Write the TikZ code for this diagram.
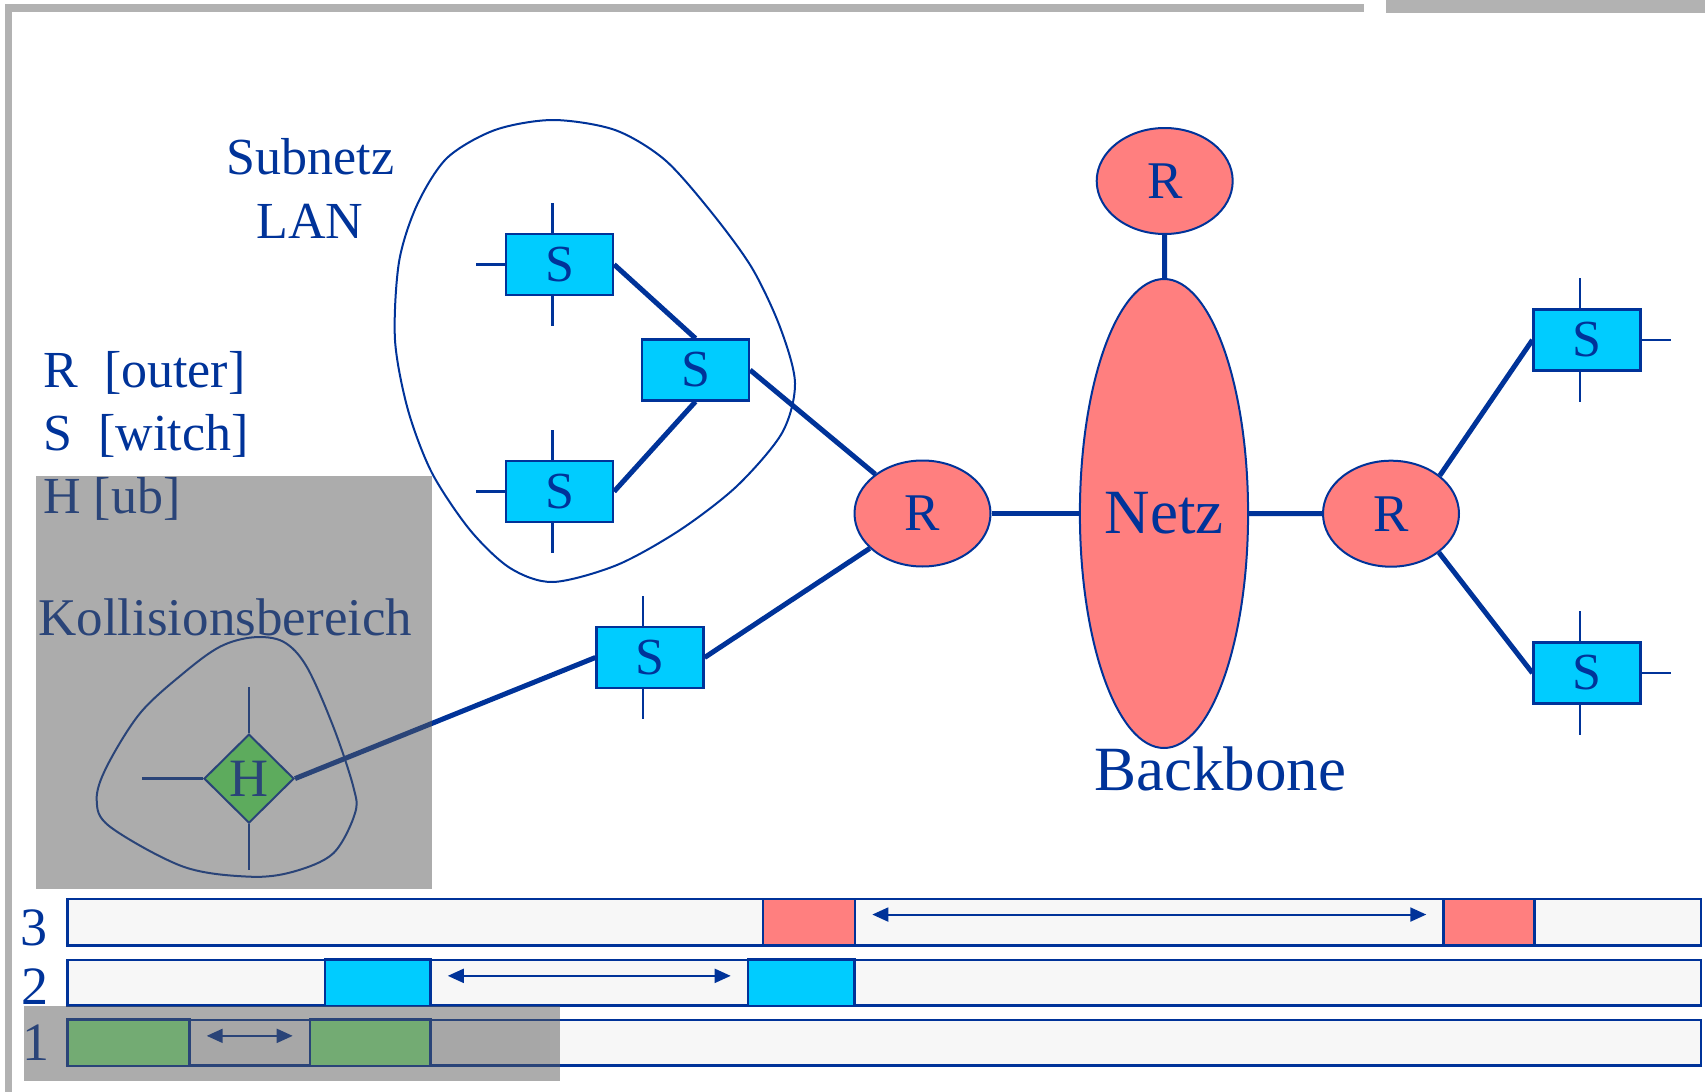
\documentclass[tikz,border=0pt]{standalone}
\usepackage{fontspec}
\setmainfont{Liberation Serif}
\usetikzlibrary{shapes.geometric,arrows.meta,calc}

\definecolor{netblue}{RGB}{0,51,153}
\definecolor{routerred}{RGB}{255,127,127}
\definecolor{switchcyan}{RGB}{0,204,255}
\definecolor{hubgreen}{RGB}{99,255,99}
\definecolor{slotgreen}{RGB}{144,255,144}
\definecolor{barbg}{RGB}{247,247,247}
\definecolor{framegray}{RGB}{178,178,178}
\definecolor{shade}{RGB}{87,87,87}

\tikzset{
  txt/.style={text=netblue, inner sep=0pt, font=\fontsize{26pt}{30pt}\selectfont},
  bigtxt/.style={text=netblue, inner sep=0pt, font=\fontsize{31.5pt}{36pt}\selectfont},
  router/.style={ellipse, draw=netblue, line width=1pt, fill=routerred, text=netblue,
    inner sep=0pt, minimum width=68pt, minimum height=53pt,
    font=\fontsize{26.5pt}{30pt}\selectfont},
  switchbox/.style={rectangle, draw=netblue, line width=1.1pt, fill=switchcyan, text=netblue,
    inner sep=0pt, minimum width=53.5pt, minimum height=30.5pt,
    font=\fontsize{26pt}{30pt}\selectfont},
  hubbox/.style={diamond, draw=netblue, line width=1pt, fill=hubgreen, text=netblue,
    inner sep=0pt, minimum width=45pt, minimum height=44.5pt,
    font=\fontsize{27pt}{30pt}\selectfont},
  link/.style={draw=netblue, line width=2.5pt},
  port/.style={draw=netblue, line width=1.2pt},
  blob/.style={draw=netblue, line width=1pt},
  lane/.style={draw=netblue, line width=1.3pt, fill=barbg},
  slot/.style={rectangle, draw=netblue, line width=1.3pt, inner sep=0pt, minimum height=23.3pt},
  gap/.style={draw=netblue, line width=1pt,
    {Triangle[length=8pt,width=7pt]}-{Triangle[length=8pt,width=7pt]},
    shorten <=8pt, shorten >=8pt},
  veil/.style={fill=shade, fill opacity=0.494, draw=none},
  digit/.style={text=netblue, inner sep=0pt, font=\fontsize{27pt}{30pt}\selectfont, anchor=base},
}

\begin{document}
\begin{tikzpicture}[x=0.5pt,y=-0.5pt]
\useasboundingbox (0,0) rectangle (1705,1092);

% page frame
\fill[framegray] (5,4) rectangle (1364,11.5);
\fill[framegray] (5,4) rectangle (12,1092);
\fill[framegray] (1386,0) rectangle (1705,12.5);

% subnet outline
\draw[blob] plot[smooth cycle, tension=0.5] coordinates {
  (553,120) (615,130) (665,160) (712,213) (752,268) (780,327) (795,383)
  (782,433) (737,486) (680,530) (617,565) (553,582) (510,568) (470,530)
  (432,473) (408,410) (395,340) (399,262) (417,205) (447,158) (495,130)};

% collision domain outline
\draw[blob] plot[smooth cycle, tension=0.55] coordinates {
  (253.3,637.3) (283.3,641.7) (306.7,666.7) (333.3,726.7) (353.3,786.7)
  (355,813.3) (333.3,853.3) (293.3,871.7) (250,876.7) (183.3,866.7)
  (110,826.7) (96.7,800) (106.7,766.7) (140,713.3) (183.3,673.3) (220,646.7)};

% switches
\node[switchbox] (s1) at (559.5,264.5) {S};
\node[switchbox] (s2) at (695.5,370) {S};
\node[switchbox] (s3) at (559.5,491.5) {S};
\node[switchbox] (s4) at (650,657.5) {S};
\node[switchbox] (s5) at (1587,340) {S};
\node[switchbox] (s6) at (1587,673) {S};

% routers and backbone
\node[router] (r1) at (922.5,513.5) {R};
\node[router] (r2) at (1391,513.7) {R};
\node[router] (r3) at (1164.7,181) {R};
\node[ellipse, draw=netblue, line width=1pt, fill=routerred, text=netblue, inner sep=0pt,
  minimum width=84pt, minimum height=234.5pt,
  font=\fontsize{31.5pt}{36pt}\selectfont] (netz) at (1164,513.5) {Netz};

% hub
\node[hubbox] (hub) at (249,778.6) {H};

% free ports
\draw[port] (s1.north) ++(-7,0) -- ++(0,-30);
\draw[port] (s1.south) ++(-7,0) -- ++(0,30);
\draw[port] (s1.west) -- ++(-29,0);
\draw[port] (s3.north) ++(-7,0) -- ++(0,-30);
\draw[port] (s3.south) ++(-7,0) -- ++(0,30);
\draw[port] (s3.west) -- ++(-29,0);
\draw[port] (s4.north) ++(-7,0) -- ++(0,-30);
\draw[port] (s4.south) ++(-7,0) -- ++(0,30);
\draw[port] (s5.north) ++(-7,0) -- ++(0,-30);
\draw[port] (s5.south) ++(-7,0) -- ++(0,30);
\draw[port] (s5.east) -- ++(29,0);
\draw[port] (s6.north) ++(-7,0) -- ++(0,-30);
\draw[port] (s6.south) ++(-7,0) -- ++(0,30);
\draw[port] (s6.east) -- ++(29,0);
\draw[port] (hub.north) -- ++(0,-46);
\draw[port] (hub.south) -- ++(0,46);
\draw[port] (hub.west) -- ++(-61,0);

% links
\draw[link] (s1.east) -- (s2.north);
\draw[link] (s3.east) -- (s2.south);
\draw[link] (s2.east) -- (r1);
\draw[link] (s4.east) -- (r1);
\draw[link] (hub.east) -- (s4.west);
\draw[link] (r1) -- (netz);
\draw[link] (r3) -- (netz);
\draw[link] (netz) -- (r2);
\draw[link] (r2.38) -- (s5.west);
\draw[link] (r2.-39) -- (s6.west);

% labels
\node[txt, anchor=base] at (310.5,174) {Subnetz};
\node[txt, anchor=base] at (310,238) {LAN};
\node[txt, anchor=base west] at (43,387) {R\ \ [outer]};
\node[txt, anchor=base west] at (43,450) {S\ \ [witch]};
\node[txt, anchor=base west] at (43,513) {H [ub]};
\node[txt, anchor=base west, font=\fontsize{26.5pt}{30pt}\selectfont] at (38,635) {Kollisionsbereich};
\node[bigtxt, anchor=base] at (1220,790) {Backbone};

% frame timelines
\draw[lane] (67.7,899) rectangle (1701,945.7);
\draw[lane] (67.7,960) rectangle (1701,1005.7);
\draw[lane] (67.7,1020) rectangle (1701,1065.7);

\node[slot, fill=routerred, minimum width=46.1pt] (b31) at (808.9,922.35) {};
\node[slot, fill=routerred, minimum width=45.5pt] (b32) at (1489.1,922.35) {};
\node[slot, fill=switchcyan, minimum width=52.75pt] (b21) at (377.75,982.85) {};
\node[slot, fill=switchcyan, minimum width=53.25pt] (b22) at (801.25,982.85) {};
\node[slot, fill=slotgreen, minimum width=60.85pt] (b11) at (128.55,1042.85) {};
\node[slot, fill=slotgreen, minimum width=60.25pt] (b12) at (370.25,1042.85) {};

\draw[gap] ([yshift=3.9pt]b31.east) -- ([yshift=3.9pt]b32.west);
\draw[gap] ([yshift=3.5pt]b21.east) -- ([yshift=3.5pt]b22.west);
\draw[gap] ([yshift=3.5pt]b11.east) -- ([yshift=3.5pt]b12.west);

\node[digit] at (34,945) {3};
\node[digit] at (35,1004) {2};
\node[digit] at (36,1060) {1};

% shaded collision-domain areas
\fill[veil] (36,476) rectangle (431.5,889);
\fill[veil] (23.5,1006) rectangle (560,1080.7);
\end{tikzpicture}
\end{document}
